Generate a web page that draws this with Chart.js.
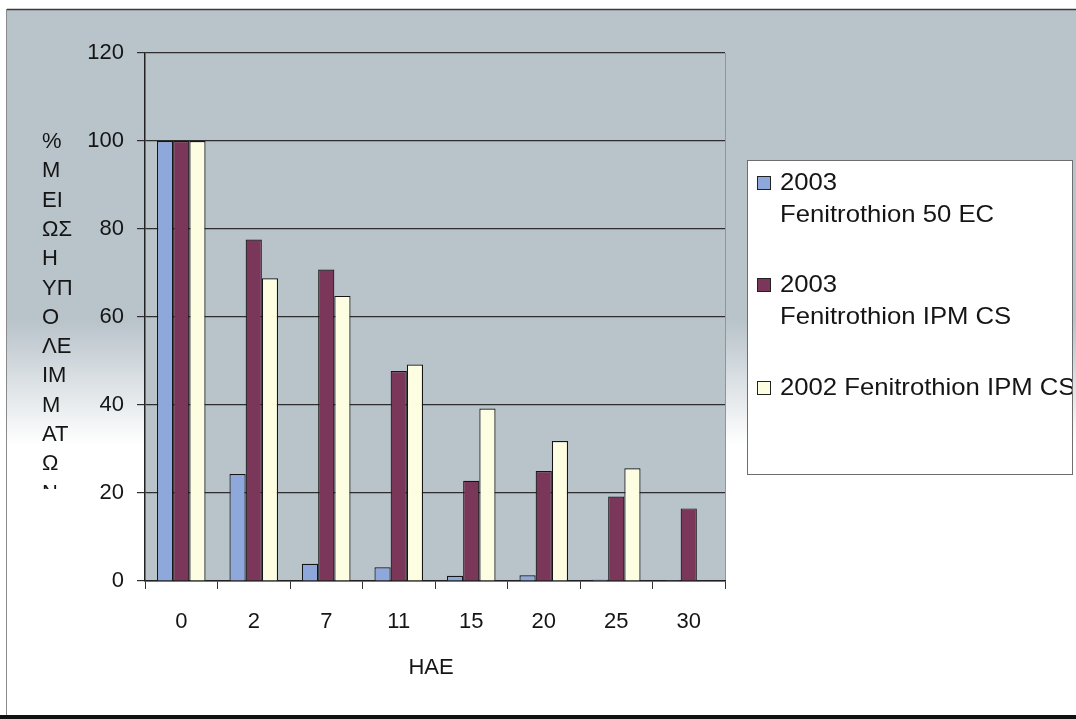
<!DOCTYPE html>
<html>
<head>
<meta charset="utf-8">
<script src="https://cdn.jsdelivr.net/npm/chart.js@4/dist/chart.umd.min.js"></script>
<style>
  html, body { margin: 0; padding: 0; background: #ffffff; }
  canvas { display: block; }
</style>
</head>
<body>
<canvas id="chart" width="1076" height="719"></canvas>
<script>
// Days after application
const days = ['0', '2', '7', '11', '15', '20', '25', '30'];

// Residue level (% of initial) per formulation
const ec50_2003 = [100, 24.3, 3.9, 3.1, 1.2, 1.3, 0.3, 0.2];
const ipmcs_2003 = [100, 77.6, 70.8, 47.7, 22.8, 25.0, 19.2, 16.5];
const ipmcs_2002 = [100, 68.8, 64.8, 49.2, 39.2, 31.8, 25.6, null];

const seriesNames = [
  ['2003', 'Fenitrothion 50 EC'],
  ['2003', 'Fenitrothion IPM CS'],
  ['2002 Fenitrothion IPM CS']
];
const seriesColors = ['#8ea8db', '#7b3759', '#fdfde2'];

const yMin = 0, yMax = 120, yStep = 20;
const yTitleLines = ['%', 'Μ', 'ΕΙ', 'ΩΣ', 'Η', 'ΥΠ', 'Ο', 'ΛΕ', 'ΙΜ', 'Μ', 'ΑΤ', 'Ω', 'Ν'];
const xTitle = 'HAE';

const FONT = 'Arial, "Liberation Sans", sans-serif';
const GRAY = '#b8c3ca';
const INK = '#151515';

// Page frame, faded backdrop and grey plot area
const backdrop = {
  id: 'backdrop',
  beforeDraw(chart) {
    const { ctx, width, height, chartArea: a } = chart;
    ctx.save();
    ctx.fillStyle = '#ffffff';
    ctx.fillRect(0, 0, width, height);
    const g = ctx.createLinearGradient(0, 320, 0, 445);
    g.addColorStop(0, GRAY);
    g.addColorStop(1, '#ffffff');
    ctx.fillStyle = g;
    ctx.fillRect(6, 9, width - 6, height - 13);
    ctx.fillStyle = GRAY;
    ctx.fillRect(a.left, a.top, a.right - a.left, a.bottom - a.top);
    ctx.strokeStyle = '#8c979d';
    ctx.lineWidth = 1;
    ctx.beginPath();
    ctx.moveTo(a.right + 0.5, a.top);
    ctx.lineTo(a.right + 0.5, a.bottom);
    ctx.stroke();
    ctx.restore();
  },
  afterDraw(chart) {
    const { ctx, width, height } = chart;
    ctx.save();
    // frame lines
    ctx.strokeStyle = '#3a3a3a';
    ctx.lineWidth = 1.5;
    ctx.beginPath();
    ctx.moveTo(7, 9.5);
    ctx.lineTo(width, 9.5);
    ctx.stroke();
    ctx.strokeStyle = '#8a8a8a';
    ctx.lineWidth = 1;
    ctx.beginPath();
    ctx.moveTo(6.5, 9);
    ctx.lineTo(6.5, height - 4);
    ctx.stroke();
    ctx.fillStyle = '#111111';
    ctx.fillRect(0, height - 4, width, 4);
    ctx.restore();
  }
};

// Stacked vertical axis title and the axis caption below the categories
const titles = {
  id: 'titles',
  afterDraw(chart) {
    const { ctx, chartArea: a } = chart;
    ctx.save();
    ctx.fillStyle = INK;
    ctx.font = '22px ' + FONT;
    ctx.textBaseline = 'middle';
    ctx.textAlign = 'left';
    ctx.beginPath();
    ctx.rect(0, 0, 140, 489);
    ctx.clip();
    yTitleLines.forEach((t, i) => ctx.fillText(t, 42, 142 + i * 29.3));
    ctx.restore();

    ctx.save();
    ctx.fillStyle = INK;
    ctx.font = '22px ' + FONT;
    ctx.textAlign = 'center';
    ctx.textBaseline = 'middle';
    ctx.fillText(xTitle, (a.left + a.right) / 2 - 4, 668);
    ctx.restore();
  }
};

// Boxed legend with wrapped series names
const boxLegend = {
  id: 'boxLegend',
  afterDraw(chart) {
    const { ctx } = chart;
    const bx = 747, by = 160, bw = 325, bh = 314;
    ctx.save();
    ctx.fillStyle = '#ffffff';
    ctx.fillRect(bx, by, bw, bh);
    ctx.strokeStyle = '#6e6e6e';
    ctx.lineWidth = 1;
    ctx.strokeRect(bx + 0.5, by + 0.5, bw, bh);
    ctx.beginPath();
    ctx.rect(bx, by, bw, bh);
    ctx.clip();
    const rows = [183, 285, 388];
    chart.data.datasets.forEach((ds, i) => {
      const y = rows[i];
      ctx.fillStyle = ds.backgroundColor;
      ctx.fillRect(757, y - 7, 14, 14);
      ctx.strokeStyle = '#222';
      ctx.strokeRect(757.5, y - 6.5, 13, 13);
      ctx.fillStyle = INK;
      ctx.font = '24px ' + FONT;
      ctx.textBaseline = 'middle';
      ctx.textAlign = 'left';
      ds.label.forEach((line, j) => {
        ctx.save();
        ctx.translate(780, y + j * 32);
        ctx.scale(1.07, 1);
        ctx.fillText(line, 0, 0);
        ctx.restore();
      });
    });
    ctx.restore();
  }
};

const mkSet = (label, data, color) => ({
  label, data,
  backgroundColor: color,
  borderColor: '#151515',
  borderWidth: 1.2,
  categoryPercentage: 0.67,
  barPercentage: 1.0
});

new Chart(document.getElementById('chart'), {
  type: 'bar',
  data: {
    labels: days,
    datasets: [
      mkSet(seriesNames[0], ec50_2003, seriesColors[0]),
      mkSet(seriesNames[1], ipmcs_2003, seriesColors[1]),
      mkSet(seriesNames[2], ipmcs_2002, seriesColors[2])
    ]
  },
  options: {
    responsive: false,
    animation: false,
    events: [],
    layout: { padding: { left: 0, top: 53, right: 351, bottom: 0 } },
    plugins: { legend: { display: false }, tooltip: { enabled: false } },
    scales: {
      x: {
        afterFit(s) { s.height = 138; },
        grid: { display: true, drawOnChartArea: false, drawTicks: true, tickLength: 8, color: '#333', lineWidth: 1 },
        border: { display: true, color: '#222', width: 1.5 },
        ticks: { color: INK, font: { family: FONT, size: 22 }, padding: 20 }
      },
      y: {
        min: yMin, max: yMax,
        afterFit(s) { s.width = 145; },
        grid: { color: '#2e2e2e', lineWidth: 1.2, tickLength: 8, drawTicks: true },
        border: { display: true, color: '#222', width: 1.5 },
        ticks: { stepSize: yStep, color: INK, font: { family: FONT, size: 22 }, padding: 13 }
      }
    }
  },
  plugins: [backdrop, titles, boxLegend]
});
</script>
</body>
</html>
